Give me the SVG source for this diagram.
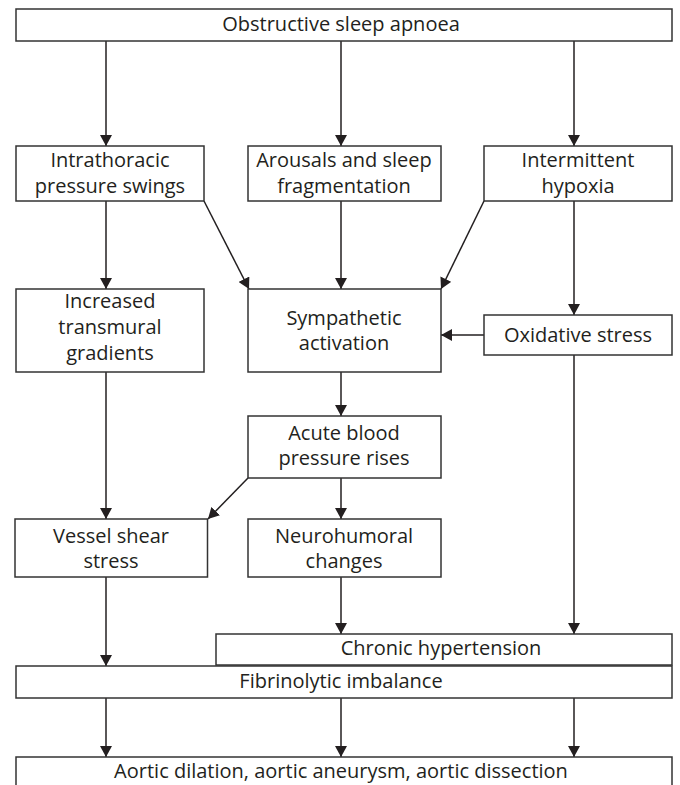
<svg xmlns="http://www.w3.org/2000/svg" width="680" height="785" viewBox="0 0 680 785">
<style>
.box{fill:#fff;stroke:#333;stroke-width:1.5}
.t{font-family:"Open Sans","Liberation Sans",sans-serif;font-size:20px;fill:#231f20;text-anchor:middle}
.c line{stroke:#231f20;stroke-width:1.5;marker-end:url(#ah)}
</style>
<defs>
<marker id="ah" markerUnits="userSpaceOnUse" viewBox="0 0 11 12" markerWidth="11" markerHeight="12" refX="11" refY="6" orient="auto">
<path d="M0,0 L11,6 L0,12 z" fill="#231f20"/>
</marker>
</defs>
<rect width="680" height="785" fill="#fff"/>
<g class="c" id="connectors">
<line x1="106" y1="41" x2="106" y2="146"/>
<line x1="341" y1="41" x2="341" y2="146"/>
<line x1="574" y1="41" x2="574" y2="146"/>
<line x1="106" y1="201" x2="106" y2="289"/>
<line x1="204" y1="201" x2="249" y2="289"/>
<line x1="341" y1="201" x2="341" y2="289"/>
<line x1="484" y1="201" x2="441" y2="289"/>
<line x1="574" y1="201" x2="574" y2="315"/>
<line x1="484" y1="335" x2="441" y2="335"/>
<line x1="341" y1="372" x2="341" y2="416"/>
<line x1="106" y1="372" x2="106" y2="519"/>
<line x1="248" y1="478" x2="208" y2="519"/>
<line x1="341" y1="478" x2="341" y2="519"/>
<line x1="341" y1="577" x2="341" y2="634"/>
<line x1="574" y1="355" x2="574" y2="634"/>
<line x1="106" y1="577" x2="106" y2="666"/>
<line x1="106" y1="698" x2="106" y2="757"/>
<line x1="341" y1="698" x2="341" y2="757"/>
<line x1="574" y1="698" x2="574" y2="757"/>
</g>
<g id="osa"><rect class="box" x="16" y="9" width="656" height="32"/><text class="t" x="341" y="31">Obstructive sleep apnoea</text></g>
<g id="itp"><rect class="box" x="16" y="146" width="188" height="55"/><text class="t" x="110" y="167">Intrathoracic</text><text class="t" x="110" y="193">pressure swings</text></g>
<g id="asf"><rect class="box" x="248" y="146" width="193" height="55"/><text class="t" x="344" y="167">Arousals and sleep</text><text class="t" x="344" y="193">fragmentation</text></g>
<g id="ih"><rect class="box" x="484" y="146" width="188" height="55"/><text class="t" x="578" y="167">Intermittent</text><text class="t" x="578" y="193">hypoxia</text></g>
<g id="itg"><rect class="box" x="16" y="289" width="188" height="83"/><text class="t" x="110" y="308">Increased</text><text class="t" x="110" y="334">transmural</text><text class="t" x="110" y="360">gradients</text></g>
<g id="sa"><rect class="box" x="248" y="289" width="193" height="83"/><text class="t" x="344" y="325">Sympathetic</text><text class="t" x="344" y="350">activation</text></g>
<g id="os"><rect class="box" x="484" y="315" width="188" height="40"/><text class="t" x="578" y="342">Oxidative stress</text></g>
<g id="abp"><rect class="box" x="248" y="416" width="193" height="62"/><text class="t" x="344" y="440">Acute blood</text><text class="t" x="344" y="465">pressure rises</text></g>
<g id="vss"><rect class="box" x="15" y="519" width="192.5" height="58"/><text class="t" x="111" y="543">Vessel shear</text><text class="t" x="111" y="568">stress</text></g>
<g id="nc"><rect class="box" x="248" y="519" width="193" height="58"/><text class="t" x="344" y="543">Neurohumoral</text><text class="t" x="344" y="568">changes</text></g>
<g id="ch"><rect class="box" x="216" y="634" width="456" height="31"/><text class="t" x="441" y="655">Chronic hypertension</text></g>
<g id="fi"><rect class="box" x="16" y="666" width="656" height="32"/><text class="t" x="341" y="688">Fibrinolytic imbalance</text></g>
<g id="ad"><rect class="box" x="16" y="757" width="656" height="45"/><text class="t" x="341" y="778">Aortic dilation, aortic aneurysm, aortic dissection</text></g>
</svg>
